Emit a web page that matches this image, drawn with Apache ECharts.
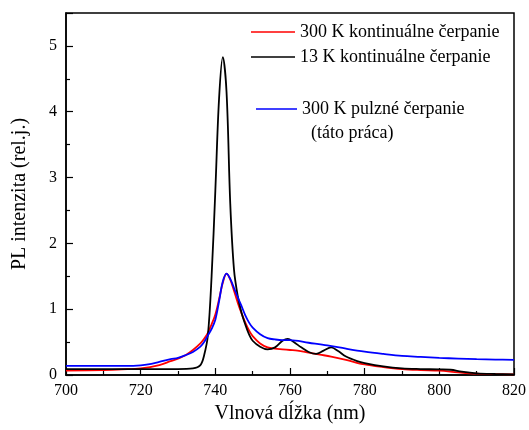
<!DOCTYPE html>
<html>
<head>
<meta charset="utf-8">
<script src="https://cdn.jsdelivr.net/npm/echarts@6/dist/echarts.min.js"></script>
<style>
  html, body { margin: 0; padding: 0; background: #fff; }
  #chart { width: 529px; height: 430px; }
</style>
</head>
<body>
<div id="chart"></div>
<script>
// PL spectra: wavelength (nm) and intensity (rel. units)
const redWl = [700, 710, 715, 720, 725, 728, 730, 732, 734, 736, 737, 738, 739, 740, 741, 742, 743, 744, 745, 746, 747, 748, 749, 750, 752, 754, 756, 758, 760, 762, 765, 768, 771, 775, 780, 785, 790, 795, 800, 805, 810, 815, 820];
const redVal = [0.065, 0.075, 0.085, 0.10, 0.15, 0.21, 0.25, 0.30, 0.38, 0.48, 0.55, 0.64, 0.77, 0.92, 1.15, 1.40, 1.54, 1.45, 1.28, 1.10, 0.94, 0.80, 0.68, 0.59, 0.48, 0.42, 0.40, 0.39, 0.38, 0.37, 0.34, 0.31, 0.28, 0.23, 0.16, 0.12, 0.09, 0.075, 0.065, 0.04, 0.02, 0.012, 0.01];

const blackWl = [700, 710, 720, 730, 734, 736, 737, 738, 739, 740, 741, 742, 743, 744, 745, 746, 747, 748, 749, 750, 752, 754, 756, 758, 759.4, 761, 763, 765, 767, 769, 771, 773, 775, 778, 780, 785, 790, 795, 800, 803, 806, 810, 815, 820];
const blackVal = [0.09, 0.09, 0.09, 0.09, 0.10, 0.15, 0.30, 0.60, 1.5, 2.8, 4.2, 4.83, 4.3, 2.6, 1.6, 1.2, 0.95, 0.77, 0.62, 0.52, 0.43, 0.39, 0.42, 0.52, 0.55, 0.50, 0.42, 0.35, 0.32, 0.37, 0.42, 0.36, 0.28, 0.21, 0.18, 0.13, 0.10, 0.09, 0.085, 0.08, 0.05, 0.025, 0.015, 0.01];

const blueWl = [700, 710, 718, 720, 722, 725, 728, 730, 732, 734, 736, 737, 738, 739, 740, 741, 742, 743, 744, 745, 746, 747, 748, 749, 750, 752, 754, 756, 758, 760, 765, 770, 775, 780, 785, 790, 795, 800, 805, 810, 815, 820];
const blueVal = [0.14, 0.14, 0.14, 0.145, 0.16, 0.20, 0.24, 0.26, 0.30, 0.35, 0.43, 0.50, 0.60, 0.70, 0.84, 1.12, 1.42, 1.54, 1.46, 1.32, 1.18, 1.05, 0.91, 0.80, 0.72, 0.62, 0.56, 0.54, 0.53, 0.53, 0.49, 0.45, 0.40, 0.355, 0.32, 0.29, 0.275, 0.26, 0.25, 0.24, 0.235, 0.23];

const seriesNames = ['300 K kontinuálne čerpanie', '13 K kontinuálne čerpanie', '300 K pulzné čerpanie'];
const noteText = '(táto práca)';
const xTitle = 'Vlnová dĺžka (nm)';
const yTitle = 'PL intenzita (rel.j.)';

const pairs = (xs, ys) => xs.map((x, i) => [x, ys[i]]);
const serif = "'Liberation Serif', 'Times New Roman', serif";

const chart = echarts.init(document.getElementById('chart'), null, { renderer: 'canvas' });

const lineSeries = (name, color, data) => ({
  name, type: 'line', data, color,
  symbol: 'none', smooth: 0.35,
  lineStyle: { color, width: 1.8 },
  emphasis: { disabled: true },
  animation: false
});

// legend keys are plain short strokes
const legendBase = {
  orient: 'vertical', padding: 0,
  icon: 'rect', itemHeight: 1.6,
  selectedMode: false,
  textStyle: { fontFamily: serif, fontSize: 18, color: '#000', lineHeight: 18 }
};

chart.setOption({
  backgroundColor: '#fff',
  animation: false,
  grid: {
    left: 66, right: 14, top: 13, bottom: 55,
    show: true, borderColor: '#000', borderWidth: 1.5, backgroundColor: 'transparent'
  },
  xAxis: {
    type: 'value', min: 700, max: 820, interval: 20,
    name: xTitle, nameLocation: 'middle', nameGap: 26,
    nameTextStyle: { fontFamily: serif, fontSize: 20, color: '#000' },
    axisLine: { show: true, lineStyle: { color: '#000', width: 1.5 } },
    axisTick: { show: true, inside: true, length: 7, lineStyle: { color: '#000', width: 1.2 } },
    minorTick: { show: true, splitNumber: 2, length: 4, lineStyle: { color: '#000', width: 1.2 } },
    axisLabel: { fontFamily: serif, fontSize: 16, color: '#000', margin: 8 },
    splitLine: { show: false }
  },
  yAxis: {
    type: 'value', min: 0, max: 5.5, interval: 1,
    name: yTitle, nameLocation: 'middle', nameGap: 36, nameRotate: 90,
    nameTextStyle: { fontFamily: serif, fontSize: 20, color: '#000' },
    axisLine: { show: true, lineStyle: { color: '#000', width: 1.5 } },
    axisTick: { show: true, inside: true, length: 7, lineStyle: { color: '#000', width: 1.2 } },
    minorTick: { show: true, splitNumber: 2, length: 4, lineStyle: { color: '#000', width: 1.2 } },
    axisLabel: { fontFamily: serif, fontSize: 16, color: '#000', margin: 9, showMaxLabel: false },
    splitLine: { show: false }
  },
  legend: [
    Object.assign({}, legendBase, {
      data: [seriesNames[0], seriesNames[1]],
      left: 251, top: 23, itemWidth: 44, itemGap: 7
    }),
    Object.assign({}, legendBase, {
      data: [seriesNames[2]],
      left: 256, top: 100, itemWidth: 41
    })
  ],
  graphic: [
    {
      type: 'text', left: 311, top: 124,
      style: { text: noteText, font: '18px ' + serif, fill: '#000' }
    }
  ],
  series: [
    lineSeries(seriesNames[0], '#ff0000', pairs(redWl, redVal)),
    lineSeries(seriesNames[1], '#000000', pairs(blackWl, blackVal)),
    lineSeries(seriesNames[2], '#0000ff', pairs(blueWl, blueVal))
  ]
});
</script>
</body>
</html>
